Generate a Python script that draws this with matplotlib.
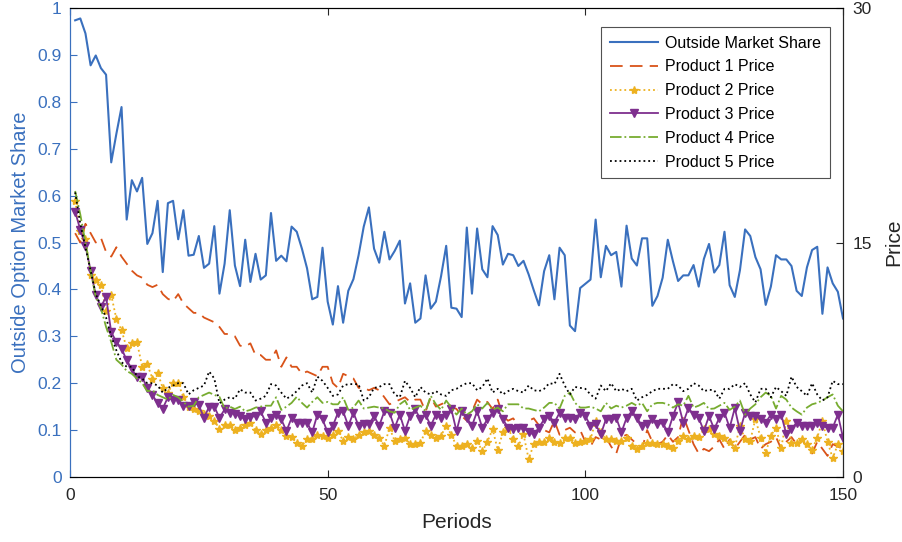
import numpy as np
import matplotlib
matplotlib.use('Agg')
import matplotlib.pyplot as plt

plt.rcParams['font.family'] = ['Liberation Sans', 'DejaVu Sans']

# Datos (periodos 1..150)
periods = np.arange(1, 151)

outside_share = [
    0.974, 0.978, 0.946, 0.878, 0.899, 0.872, 0.858, 0.671, 0.732, 0.789,
    0.549, 0.633, 0.609, 0.638, 0.497, 0.520, 0.589, 0.437, 0.584, 0.589,
    0.507, 0.569, 0.472, 0.474, 0.514, 0.446, 0.455, 0.535, 0.391, 0.455,
    0.569, 0.451, 0.407, 0.506, 0.416, 0.476, 0.421, 0.430, 0.563, 0.461,
    0.472, 0.460, 0.534, 0.523, 0.487, 0.445, 0.379, 0.384, 0.489, 0.374,
    0.325, 0.407, 0.329, 0.397, 0.422, 0.473, 0.534, 0.575, 0.487, 0.457,
    0.523, 0.464, 0.482, 0.504, 0.370, 0.413, 0.329, 0.338, 0.430, 0.359,
    0.374, 0.428, 0.493, 0.361, 0.359, 0.341, 0.532, 0.391, 0.530, 0.443,
    0.426, 0.535, 0.516, 0.453, 0.476, 0.473, 0.450, 0.461, 0.432, 0.398,
    0.366, 0.439, 0.473, 0.379, 0.489, 0.473, 0.323, 0.311, 0.403, 0.412,
    0.421, 0.549, 0.426, 0.493, 0.473, 0.480, 0.406, 0.536, 0.466, 0.451,
    0.509, 0.509, 0.365, 0.386, 0.425, 0.506, 0.460, 0.418, 0.430, 0.430,
    0.452, 0.406, 0.465, 0.497, 0.436, 0.452, 0.523, 0.409, 0.384, 0.441,
    0.528, 0.514, 0.469, 0.443, 0.367, 0.406, 0.473, 0.464, 0.464, 0.450,
    0.397, 0.386, 0.447, 0.484, 0.491, 0.348, 0.447, 0.413, 0.395, 0.338,
]

# precios leidos sobre la escala izquierda (0-1); se pasan a la escala 0-30
price_1 = [
    0.52, 0.50, 0.54, 0.52, 0.50, 0.51, 0.48, 0.47, 0.49, 0.47,
    0.455, 0.44, 0.43, 0.425, 0.41, 0.405, 0.41, 0.39, 0.38, 0.375,
    0.39, 0.37, 0.36, 0.35, 0.35, 0.34, 0.335, 0.33, 0.32, 0.305,
    0.305, 0.30, 0.28, 0.278, 0.285, 0.26, 0.26, 0.25, 0.25, 0.27,
    0.235, 0.255, 0.235, 0.235, 0.22, 0.225, 0.22, 0.215, 0.235, 0.235,
    0.20, 0.19, 0.22, 0.215, 0.21, 0.19, 0.19, 0.185, 0.19, 0.185,
    0.17, 0.155, 0.16, 0.165, 0.17, 0.16, 0.165, 0.165, 0.14, 0.17,
    0.15, 0.155, 0.16, 0.15, 0.145, 0.13, 0.12, 0.14, 0.165, 0.155,
    0.16, 0.145, 0.165, 0.13, 0.12, 0.125, 0.11, 0.10, 0.12, 0.125,
    0.11, 0.10, 0.095, 0.12, 0.09, 0.10, 0.105, 0.095, 0.10, 0.075,
    0.065, 0.085, 0.08, 0.085, 0.065, 0.05, 0.085, 0.09, 0.08, 0.07,
    0.06, 0.10, 0.075, 0.07, 0.075, 0.09, 0.075, 0.085, 0.13, 0.10,
    0.07, 0.05, 0.06, 0.055, 0.065, 0.08, 0.06, 0.08, 0.06, 0.075,
    0.09, 0.08, 0.085, 0.06, 0.07, 0.075, 0.085, 0.06, 0.075, 0.085,
    0.07, 0.08, 0.065, 0.05, 0.075, 0.06, 0.045, 0.07, 0.065, 0.06,
]

price_2 = [
    0.588, 0.525, 0.508, 0.43, 0.42, 0.41, 0.353, 0.388, 0.337, 0.313,
    0.275, 0.285, 0.288, 0.235, 0.24, 0.21, 0.222, 0.19, 0.18, 0.20,
    0.20, 0.17, 0.15, 0.145, 0.14, 0.135, 0.13, 0.12, 0.103, 0.11,
    0.11, 0.10, 0.105, 0.11, 0.116, 0.10, 0.092, 0.10, 0.105, 0.11,
    0.10, 0.088, 0.085, 0.073, 0.066, 0.082, 0.082, 0.09, 0.088, 0.084,
    0.09, 0.098, 0.077, 0.085, 0.08, 0.09, 0.095, 0.098, 0.09, 0.084,
    0.066, 0.105, 0.077, 0.08, 0.084, 0.07, 0.07, 0.073, 0.098, 0.09,
    0.084, 0.088, 0.109, 0.09, 0.066, 0.066, 0.07, 0.062, 0.077, 0.055,
    0.075, 0.102, 0.058, 0.095, 0.105, 0.08, 0.066, 0.091, 0.038, 0.07,
    0.075, 0.075, 0.084, 0.075, 0.073, 0.084, 0.084, 0.073, 0.075, 0.077,
    0.08, 0.12, 0.095, 0.08, 0.08, 0.077, 0.077, 0.084, 0.066, 0.06,
    0.066, 0.073, 0.073, 0.07, 0.07, 0.066, 0.062, 0.077, 0.088, 0.08,
    0.088, 0.085, 0.102, 0.102, 0.091, 0.088, 0.084, 0.075, 0.062, 0.109,
    0.08, 0.077, 0.124, 0.084, 0.052, 0.088, 0.105, 0.062, 0.12, 0.073,
    0.073, 0.08, 0.07, 0.058, 0.084, 0.12, 0.075, 0.04, 0.07, 0.055,
]

price_3 = [
    0.566, 0.527, 0.493, 0.44, 0.388, 0.363, 0.384, 0.309, 0.288, 0.274,
    0.249, 0.23, 0.213, 0.213, 0.19, 0.175, 0.157, 0.146, 0.17, 0.164,
    0.164, 0.152, 0.152, 0.16, 0.153, 0.126, 0.15, 0.15, 0.126, 0.144,
    0.137, 0.135, 0.13, 0.123, 0.128, 0.13, 0.14, 0.116, 0.125, 0.133,
    0.123, 0.098, 0.126, 0.116, 0.116, 0.116, 0.095, 0.133, 0.123, 0.095,
    0.109, 0.137, 0.14, 0.109, 0.137, 0.109, 0.112, 0.112, 0.13, 0.109,
    0.14, 0.137, 0.105, 0.133, 0.098, 0.13, 0.144, 0.123, 0.133, 0.109,
    0.133, 0.126, 0.133, 0.144, 0.098, 0.14, 0.126, 0.109, 0.14, 0.105,
    0.123, 0.137, 0.144, 0.123, 0.105, 0.102, 0.105, 0.105, 0.095, 0.091,
    0.105, 0.123, 0.13, 0.116, 0.137, 0.126, 0.126, 0.123, 0.137, 0.13,
    0.109, 0.112, 0.091, 0.123, 0.123, 0.126, 0.095, 0.126, 0.14, 0.126,
    0.109, 0.112, 0.123, 0.112, 0.116, 0.095, 0.13, 0.159, 0.116, 0.147,
    0.133, 0.126, 0.098, 0.13, 0.102, 0.126, 0.137, 0.105, 0.147, 0.098,
    0.137, 0.13, 0.13, 0.123, 0.116, 0.133, 0.123, 0.133, 0.091, 0.102,
    0.116, 0.109, 0.109, 0.109, 0.116, 0.109, 0.105, 0.105, 0.133, 0.084,
]

price_4 = [
    0.61, 0.56, 0.50, 0.44, 0.384, 0.36, 0.32, 0.288, 0.25, 0.24,
    0.226, 0.22, 0.21, 0.20, 0.183, 0.185, 0.175, 0.17, 0.165, 0.175,
    0.17, 0.16, 0.15, 0.152, 0.17, 0.175, 0.18, 0.175, 0.171, 0.146,
    0.15, 0.145, 0.15, 0.14, 0.143, 0.148, 0.15, 0.152, 0.152, 0.17,
    0.143, 0.15, 0.158, 0.171, 0.158, 0.148, 0.16, 0.17, 0.158, 0.16,
    0.155, 0.155, 0.17, 0.143, 0.148, 0.163, 0.146, 0.148, 0.15, 0.148,
    0.146, 0.14, 0.137, 0.155, 0.163, 0.143, 0.148, 0.152, 0.14, 0.173,
    0.155, 0.143, 0.163, 0.148, 0.133, 0.146, 0.133, 0.14, 0.155, 0.146,
    0.158, 0.143, 0.148, 0.14, 0.155, 0.155, 0.155, 0.146, 0.146, 0.143,
    0.14, 0.148, 0.158, 0.158, 0.146, 0.173, 0.18, 0.158, 0.148, 0.148,
    0.15, 0.146, 0.14, 0.158, 0.146, 0.152, 0.148, 0.152, 0.158, 0.152,
    0.158, 0.14, 0.155, 0.158, 0.158, 0.155, 0.148, 0.155, 0.152, 0.173,
    0.148, 0.152, 0.158, 0.145, 0.146, 0.152, 0.158, 0.143, 0.15, 0.163,
    0.133, 0.146, 0.155, 0.17, 0.18, 0.173, 0.146, 0.173, 0.165, 0.148,
    0.14, 0.133, 0.148, 0.155, 0.158, 0.163, 0.17, 0.176, 0.152, 0.14,
]

price_5 = [
    0.607, 0.54, 0.49, 0.44, 0.39, 0.365, 0.34, 0.30, 0.27, 0.245,
    0.235, 0.235, 0.215, 0.21, 0.20, 0.20, 0.195, 0.18, 0.19, 0.195,
    0.20, 0.20, 0.176, 0.185, 0.19, 0.195, 0.225, 0.21, 0.157, 0.165,
    0.17, 0.167, 0.187, 0.18, 0.18, 0.163, 0.167, 0.173, 0.198, 0.195,
    0.18, 0.167, 0.173, 0.183, 0.195, 0.20, 0.18, 0.214, 0.205, 0.19,
    0.173, 0.176, 0.195, 0.198, 0.198, 0.198, 0.163, 0.17, 0.19, 0.192,
    0.198, 0.198, 0.176, 0.17, 0.205, 0.19, 0.17, 0.192, 0.18, 0.176,
    0.183, 0.176, 0.173, 0.185, 0.188, 0.195, 0.20, 0.20, 0.185, 0.192,
    0.21, 0.18, 0.188, 0.176, 0.183, 0.188, 0.183, 0.18, 0.195, 0.185,
    0.183, 0.188, 0.20, 0.198, 0.22, 0.195, 0.176, 0.192, 0.19, 0.188,
    0.176, 0.167, 0.195, 0.183, 0.20, 0.183, 0.188, 0.183, 0.188, 0.163,
    0.17, 0.175, 0.183, 0.188, 0.188, 0.188, 0.198, 0.195, 0.183, 0.188,
    0.20, 0.195, 0.183, 0.186, 0.185, 0.167, 0.188, 0.188, 0.198, 0.192,
    0.20, 0.176, 0.159, 0.188, 0.188, 0.17, 0.192, 0.183, 0.173, 0.214,
    0.192, 0.183, 0.173, 0.20, 0.176, 0.163, 0.17, 0.205, 0.198, 0.198,
]

price_max = 30
prices = [np.array(p) * price_max for p in (price_1, price_2, price_3, price_4, price_5)]

blue = '#3A70BE'
axis_gray = '#262626'

fig = plt.figure(figsize=(9.02, 5.42), dpi=100)
ax = fig.add_axes([0.0776, 0.12, 0.857, 0.865])
ax2 = ax.twinx()

h0, = ax.plot(periods, outside_share, '-', color=blue, lw=1.5, label='Outside Market Share')

h1, = ax2.plot(periods, prices[0], '--', color='#D95319', lw=1.3, dashes=(7, 4),
               label='Product 1 Price')
h2, = ax2.plot(periods, prices[1], ':', color='#EDB120', lw=1.3, marker='*',
               markersize=6, label='Product 2 Price')
h3, = ax2.plot(periods, prices[2], '-', color='#7E2F8E', lw=1.3, marker='v',
               markersize=5.5, label='Product 3 Price')
h4, = ax2.plot(periods, prices[3], '-.', color='#77AC30', lw=1.3, label='Product 4 Price')
h5, = ax2.plot(periods, prices[4], ':', color='black', lw=1.3, label='Product 5 Price')

# ejes
ax.set_xlim(0, 150)
ax.set_ylim(0, 1)
ax2.set_ylim(0, price_max)
ax.set_xticks([0, 50, 100, 150])
ax.set_yticks(np.arange(0, 1.01, 0.1))
ax.set_yticklabels(['0', '0.1', '0.2', '0.3', '0.4', '0.5', '0.6', '0.7', '0.8', '0.9', '1'])
ax2.set_yticks([0, 15, 30])

ax.tick_params(axis='x', direction='in', top=True, colors=axis_gray, labelsize=12.5,
               length=5, pad=8)
ax.tick_params(axis='y', direction='in', colors=blue, labelsize=12.5, length=5, pad=6)
ax2.tick_params(axis='y', direction='in', colors=axis_gray, labelsize=12.5, length=5, pad=7)

for side in ['top', 'bottom']:
    ax.spines[side].set_color(axis_gray)
ax.spines['left'].set_color(blue)
ax2.spines['left'].set_color(blue)
ax2.spines['right'].set_color(axis_gray)
ax.spines['right'].set_color(axis_gray)

ax.set_xlabel('Periods', fontsize=15, color=axis_gray, labelpad=7)
ax.set_ylabel('Outside Option Market Share', fontsize=14.5, color=blue, labelpad=5)
ax2.set_ylabel('Price', fontsize=15, color=axis_gray, labelpad=9)

leg = ax2.legend(handles=[h0, h1, h2, h3, h4, h5], loc='upper right',
                 bbox_to_anchor=(0.983, 0.96), borderaxespad=0, fontsize=11.5,
                 frameon=True, fancybox=False, handlelength=3.0, borderpad=0.55,
                 labelspacing=0.55, handletextpad=0.45)
leg.get_frame().set_edgecolor(axis_gray)
leg.get_frame().set_linewidth(0.8)

fig.savefig('out.png', dpi=100)
